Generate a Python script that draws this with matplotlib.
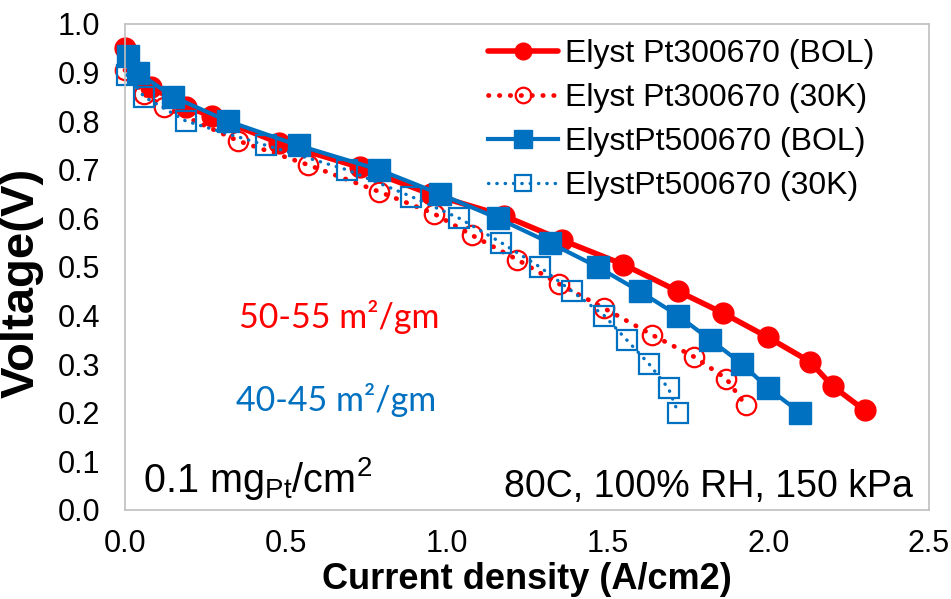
import matplotlib
matplotlib.use("Agg")
import matplotlib.pyplot as plt

plt.rcParams['font.family'] = ['Liberation Sans', 'DejaVu Sans']
plt.rcParams['mathtext.default'] = 'regular'

# Polarization data: current density (A/cm2) vs cell voltage (V)
pt300_bol_i = [0.00, 0.08, 0.19, 0.27, 0.48, 0.73, 0.95, 1.18, 1.36, 1.55, 1.72, 1.86, 2.00, 2.13, 2.20, 2.30]
pt300_bol_v = [0.95, 0.87, 0.83, 0.81, 0.755, 0.705, 0.65, 0.605, 0.555, 0.505, 0.45, 0.405, 0.355, 0.305, 0.255, 0.205]

pt300_30k_i = [0.00, 0.06, 0.12, 0.35, 0.57, 0.79, 0.96, 1.08, 1.22, 1.35, 1.49, 1.64, 1.77, 1.87, 1.93]
pt300_30k_v = [0.905, 0.855, 0.83, 0.76, 0.71, 0.655, 0.61, 0.565, 0.515, 0.465, 0.415, 0.36, 0.315, 0.27, 0.215]

pt500_bol_i = [0.01, 0.04, 0.15, 0.32, 0.54, 0.79, 0.98, 1.16, 1.32, 1.47, 1.60, 1.72, 1.82, 1.92, 2.00, 2.10]
pt500_bol_v = [0.935, 0.90, 0.85, 0.80, 0.75, 0.70, 0.65, 0.60, 0.55, 0.50, 0.45, 0.40, 0.35, 0.30, 0.25, 0.20]

pt500_30k_i = [0.005, 0.06, 0.19, 0.44, 0.69, 0.89, 1.04, 1.17, 1.29, 1.39, 1.49, 1.56, 1.63, 1.69, 1.72]
pt500_30k_v = [0.895, 0.85, 0.80, 0.75, 0.70, 0.645, 0.60, 0.55, 0.50, 0.45, 0.40, 0.35, 0.30, 0.25, 0.20]

series_labels = ["Elyst Pt300670 (BOL)", "Elyst Pt300670 (30K)",
                 "ElystPt500670 (BOL)", "ElystPt500670 (30K)"]

RED = "#ff0000"
BLUE = "#0070c0"

fig = plt.figure(figsize=(9.51, 5.99), dpi=100)
ax = fig.add_axes([0.1314, 0.1486, 0.8455, 0.8114])

ax.plot(pt300_bol_i, pt300_bol_v, color=RED, lw=4.0, marker='o', ms=15,
        mfc=RED, mec=RED, label=series_labels[0], solid_capstyle='round',
        clip_on=False)
ax.plot(pt300_30k_i, pt300_30k_v, color=RED, lw=3.4, linestyle=(0, (0.1, 2.2)),
        dash_capstyle='round', marker='o', ms=14, mfc='none', mec=RED, mew=1.6,
        label=series_labels[1], clip_on=False)
ax.plot(pt500_bol_i, pt500_bol_v, color=BLUE, lw=3.0, marker='s', ms=15.5,
        mfc=BLUE, mec=BLUE, label=series_labels[2], clip_on=False)
ax.plot(pt500_30k_i, pt500_30k_v, color=BLUE, lw=2.4, linestyle=(0, (0.1, 2.4)),
        dash_capstyle='round', marker='s', ms=14, mfc='none', mec=BLUE, mew=1.6,
        label=series_labels[3], clip_on=False)

ax.set_xlim(0, 2.5)
ax.set_ylim(0, 1.0)
ax.set_xticks([0.0, 0.5, 1.0, 1.5, 2.0, 2.5])
ax.set_yticks([i / 10 for i in range(11)])
ax.xaxis.set_major_formatter(matplotlib.ticker.FormatStrFormatter('%.1f'))
ax.yaxis.set_major_formatter(matplotlib.ticker.FormatStrFormatter('%.1f'))
ax.tick_params(axis='both', length=0, labelsize=22)
ax.tick_params(axis='x', pad=14)
ax.tick_params(axis='y', pad=18)
for s in ax.spines.values():
    s.set_color('#bfbfbf')
    s.set_linewidth(1.2)

ax.set_xlabel("Current density (A/cm2)", fontsize=26, fontweight='bold', va='center')
ax.xaxis.set_label_coords(0.5, -0.144)
ax.set_ylabel("Voltage(V)", fontsize=34, fontweight='bold', va='center')
ax.yaxis.set_label_coords(-0.128, 0.467)

ax.legend(loc='upper left', bbox_to_anchor=(0.435, 0.995), frameon=False,
          fontsize=23, handlelength=2.2, handletextpad=0.22, labelspacing=0.44,
          markerscale=0.8, numpoints=1, borderaxespad=0)

ax.text(0.665, 0.397, "50-55 m²/gm", color=RED, fontsize=24.5, ha='center', va='center',
        family=['Lato', 'DejaVu Sans'])
ax.text(0.656, 0.226, "40-45 m²/gm", color=BLUE, fontsize=24.5, ha='center', va='center',
        family=['Lato', 'DejaVu Sans'])

ax.text(0.057, 0.037, r"0.1 mg$_{Pt}$/cm$^{2}$", fontsize=28.5, ha='left', va='baseline')
ax.text(2.45, 0.027, "80C, 100% RH, 150 kPa", fontsize=27, ha='right', va='baseline')

fig.savefig("out.png", dpi=100)
